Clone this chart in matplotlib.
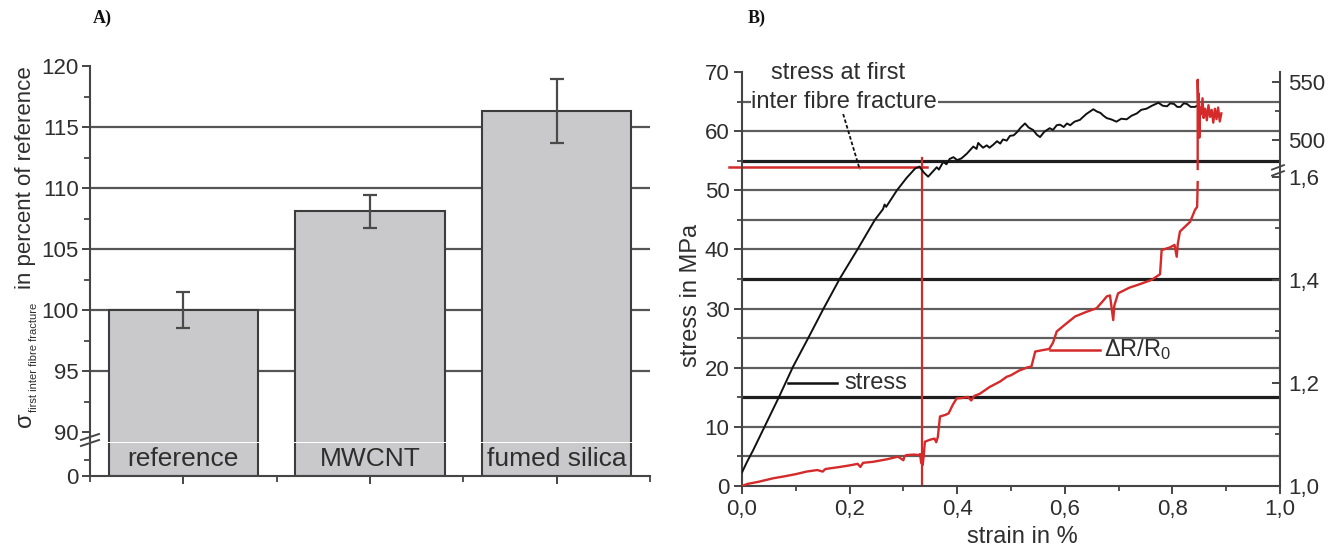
import numpy as np
import matplotlib
matplotlib.use("Agg")
import matplotlib.pyplot as plt
from matplotlib.ticker import FixedLocator, FuncFormatter, NullFormatter

plt.rcParams['font.family'] = ['Liberation Sans', 'DejaVu Sans']
plt.rcParams['mathtext.fontset'] = 'custom'
plt.rcParams['mathtext.rm'] = 'Liberation Sans'
plt.rcParams['mathtext.it'] = 'Liberation Sans:italic'
plt.rcParams['mathtext.bf'] = 'Liberation Sans:bold'

# ---------------- Panel A: strength at first inter fibre fracture ----------------
categories = ['reference', 'MWCNT', 'fumed silica']
strength_pct = [100.0, 108.1, 116.3]
strength_err = [1.5, 1.35, 2.6]

# ---------------- Panel B: tensile test with resistance measurement ----------------
stress_strain = [0.000, 0.010, 0.021, 0.045, 0.069, 0.095, 0.123, 0.151, 0.182, 0.216,
                 0.247, 0.262, 0.265, 0.268, 0.288, 0.306, 0.322, 0.330, 0.338, 0.346,
                 0.356, 0.362, 0.366, 0.374, 0.380, 0.386, 0.393, 0.400, 0.408, 0.418,
                 0.430, 0.436, 0.439, 0.448, 0.455, 0.460, 0.467, 0.474, 0.480, 0.485,
                 0.492, 0.498, 0.505, 0.512, 0.518, 0.526, 0.533, 0.541, 0.548, 0.554,
                 0.562, 0.572, 0.578, 0.585, 0.591, 0.598, 0.604, 0.610, 0.618, 0.628,
                 0.640, 0.653, 0.660, 0.666, 0.672, 0.678, 0.686, 0.696, 0.705, 0.715,
                 0.724, 0.734, 0.742, 0.752, 0.762, 0.774, 0.782, 0.790, 0.796, 0.803,
                 0.809, 0.815, 0.821, 0.827, 0.834, 0.842, 0.846]
stress_mpa = [2.3, 4.2, 6.1, 10.6, 15.1, 20.2, 25.0, 29.9, 35.1, 40.2,
              45.0, 46.8, 47.6, 47.2, 50.0, 52.1, 53.7, 54.0, 53.0, 52.3,
              53.3, 53.9, 53.5, 54.8, 54.4, 55.3, 55.6, 55.1, 55.4, 56.2,
              57.4, 57.0, 58.0, 57.2, 57.6, 57.2, 57.7, 58.3, 57.9, 58.6,
              58.4, 59.2, 59.3, 59.9, 60.6, 61.3, 60.6, 60.2, 59.4, 59.0,
              59.9, 60.5, 60.2, 61.0, 61.1, 60.7, 61.3, 61.0, 61.6, 61.9,
              62.9, 63.7, 63.3, 63.1, 62.6, 62.2, 62.0, 61.6, 62.1, 62.0,
              62.6, 63.0, 63.6, 63.8, 64.3, 64.8, 64.3, 64.2, 64.7, 64.6,
              64.1, 64.1, 64.7, 64.6, 64.1, 64.1, 64.3]

# relative resistance, lower range
res_strain_low = [0.000, 0.010, 0.030, 0.058, 0.080, 0.100, 0.120, 0.140, 0.150, 0.155,
                  0.182, 0.200, 0.215, 0.220, 0.225, 0.244, 0.270, 0.290, 0.300, 0.302,
                  0.306, 0.320, 0.328, 0.331, 0.333, 0.336, 0.338, 0.340, 0.350, 0.358,
                  0.361, 0.364, 0.368, 0.378, 0.384, 0.392, 0.399, 0.410, 0.420, 0.426,
                  0.432, 0.442, 0.460, 0.480, 0.492, 0.500, 0.515, 0.530, 0.538, 0.545,
                  0.560, 0.571, 0.578, 0.585, 0.600, 0.619, 0.640, 0.659, 0.670, 0.678,
                  0.684, 0.690, 0.692, 0.699, 0.720, 0.740, 0.761, 0.777, 0.780, 0.795,
                  0.804, 0.808, 0.810, 0.814, 0.825, 0.833, 0.842, 0.846, 0.847]
res_low = [1.000, 1.004, 1.008, 1.015, 1.019, 1.023, 1.028, 1.031, 1.028, 1.033,
           1.037, 1.040, 1.043, 1.037, 1.045, 1.047, 1.052, 1.057, 1.050, 1.058,
           1.060, 1.061, 1.060, 1.062, 1.045, 1.041, 1.062, 1.086, 1.090, 1.092,
           1.085, 1.095, 1.135, 1.138, 1.141, 1.158, 1.170, 1.171, 1.173, 1.166,
           1.175, 1.179, 1.192, 1.203, 1.212, 1.215, 1.224, 1.230, 1.232, 1.261,
           1.264, 1.266, 1.278, 1.300, 1.313, 1.329, 1.338, 1.345, 1.358, 1.368,
           1.370, 1.322, 1.350, 1.374, 1.385, 1.392, 1.400, 1.411, 1.458, 1.463,
           1.468, 1.445, 1.470, 1.494, 1.505, 1.513, 1.536, 1.542, 1.590]

# relative resistance after failure (upper range)
res_strain_high = [0.847, 0.847, 0.848, 0.849, 0.850, 0.851, 0.853, 0.856, 0.858, 0.861,
                   0.864, 0.867, 0.870, 0.873, 0.876, 0.879, 0.882, 0.885, 0.888, 0.891]
res_high = [472, 552, 530, 540, 502, 528, 522, 536, 519, 527,
            517, 530, 520, 526, 515, 527, 518, 528, 516, 523]

first_iff_strain = 0.334
first_iff_stress = 54.0

W, H = 1333, 549
INK = '#2e2e2e'
AXC = '#454545'
RED = '#d42a2a'

fig = plt.figure(figsize=(W / 100, H / 100), dpi=100)


def fig_rect(left, top, right, bottom):
    return [left / W, 1 - bottom / H, (right - left) / W, (bottom - top) / H]


# ---- broken y scale for panel A (units ~ pixels above the x axis) ----
A_V = [-1000.0, 0.0, 33.0, 89.6, 1000.0]
A_D = [-1000.0, 0.0, 33.0, 39.0, 39.0 + (1000.0 - 89.6) * 12.2]


def a_fwd(v):
    return np.interp(v, A_V, A_D)


def a_inv(d):
    return np.interp(d, A_D, A_V)


axA = fig.add_axes(fig_rect(90, 66, 650, 476))
axA.set_yscale('function', functions=(a_fwd, a_inv))
axA.set_xlim(0.5, 3.5)
axA.set_ylim(0, 120)

xpos = np.arange(1, len(categories) + 1)
for g in [95, 100, 105, 110, 115]:
    axA.axhline(g, color='#555555', lw=1.6, zorder=1)
axA.bar(xpos, strength_pct, width=0.8, color='#c9c9cb', edgecolor='#3c3c3c',
        linewidth=1.5, zorder=2)
axA.errorbar(xpos, strength_pct, yerr=strength_err, fmt='none', ecolor='#4a4a4a',
             elinewidth=1.6, capsize=5, capthick=1.6, zorder=4)
for xi, name in zip(xpos, categories):
    axA.text(xi, 16.5, name, ha='center', va='center', fontsize=19, color=INK, zorder=5)

for s in ['top', 'right']:
    axA.spines[s].set_visible(False)
for s in ['left', 'bottom']:
    axA.spines[s].set_color(AXC)
    axA.spines[s].set_linewidth(1.5)

axA.yaxis.set_major_locator(FixedLocator([0, 90, 95, 100, 105, 110, 115, 120]))
axA.yaxis.set_minor_locator(FixedLocator([16, 92.5, 97.5, 102.5, 107.5, 112.5, 117.5]))
axA.yaxis.set_major_formatter(FuncFormatter(lambda v, p: f'{v:.0f}'))
axA.yaxis.set_minor_formatter(NullFormatter())
axA.xaxis.set_major_locator(FixedLocator(list(xpos)))
axA.xaxis.set_minor_locator(FixedLocator([0.5, 1.5, 2.5, 3.5]))
axA.xaxis.set_major_formatter(NullFormatter())
axA.tick_params(axis='both', which='major', direction='out', length=6, width=1.4,
                color=AXC, labelcolor=INK, labelsize=16, pad=2)
axA.tick_params(axis='both', which='minor', direction='out', length=4, width=1.3, color=AXC)

# axis break: white gap across the bars and the axis, with slanted marks
axA.add_patch(plt.Rectangle((-0.02, 33), 1.03, 6, transform=axA.get_yaxis_transform(),
                            facecolor='white', edgecolor='none', zorder=3.5, clip_on=False))
hA = 410.0
for d in (33.0, 39.0):
    axA.plot([-9 / 560, 9 / 560], [(d - 3) / hA, (d + 3) / hA], transform=axA.transAxes,
             color=AXC, lw=1.4, clip_on=False, zorder=6)

# y label: sigma with a small subscript, then the rest of the label
fig.text(31 / W, 1 - 427 / H, 'σ', rotation=90, rotation_mode='anchor', ha='left',
         va='baseline', fontsize=17, color=INK)
fig.text(37 / W, 1 - 412 / H, 'first inter fibre fracture', rotation=90,
         rotation_mode='anchor', ha='left', va='baseline', fontsize=8, color=INK)
fig.text(31 / W, 1 - 289 / H, 'in percent of reference', rotation=90,
         rotation_mode='anchor', ha='left', va='baseline', fontsize=16, color=INK)

fig.text(93 / W, 1 - 18 / H, 'A)', fontfamily='Liberation Serif', fontweight='bold',
         fontsize=13, ha='left', va='center', color='#111111')
fig.text(748 / W, 1 - 18 / H, 'B)', fontfamily='Liberation Serif', fontweight='bold',
         fontsize=13, ha='left', va='center', color='#111111')

# ---------------- Panel B ----------------
axB = fig.add_axes(fig_rect(742, 72, 1280, 486))
axB.set_xlim(0, 1)
axB.set_ylim(0, 70)
for g in range(5, 70, 5):
    thick = g in (15, 35, 55)
    axB.axhline(g, color='#1e1e1e' if thick else '#5e5e5e', lw=2.3 if thick else 1.6,
                zorder=1)

axB.plot(stress_strain, stress_mpa, color='#111111', lw=1.4, zorder=3)

# marker lines for stress at first inter fibre fracture
axB.plot([-0.024, first_iff_strain + 0.009], [first_iff_stress, first_iff_stress],
         color=RED, lw=1.8, zorder=2.5, clip_on=False)
axB.plot([first_iff_strain, first_iff_strain], [0, 55.5], color=RED, lw=1.6, zorder=2.5)

axB.text(0.178, 69.8, 'stress at first', ha='center', va='center', fontsize=17,
         color=INK, clip_on=False, zorder=6)
axB.text(0.190, 64.9, 'inter fibre fracture', ha='center', va='center', fontsize=17,
         color=INK, zorder=6,
         bbox=dict(facecolor='white', edgecolor='none', pad=0.5))
axB.plot([0.188, 0.219], [62.9, 53.5], color='#111111', lw=1.3, ls=(0, (2, 1.2)), zorder=4)

axB.plot([0.086, 0.176], [17.4, 17.4], color='#111111', lw=1.8, zorder=4)
axB.text(0.191, 17.4, 'stress', ha='left', va='center', fontsize=17, color=INK, zorder=6)

axB.plot([0.572, 0.665], [23.0, 23.0], color=RED, lw=1.8, zorder=4)
axB.text(0.673, 23.0, r'ΔR/R$_0$', ha='left', va='center', fontsize=17, color=INK, zorder=6)

axB.spines['top'].set_visible(False)
axB.spines['right'].set_visible(False)
for s in ['left', 'bottom']:
    axB.spines[s].set_color(AXC)
    axB.spines[s].set_linewidth(1.5)

axB.yaxis.set_major_locator(FixedLocator(list(range(0, 71, 10))))
axB.yaxis.set_minor_locator(FixedLocator(list(range(5, 70, 10))))
axB.xaxis.set_major_locator(FixedLocator([0, 0.2, 0.4, 0.6, 0.8, 1.0]))
axB.xaxis.set_minor_locator(FixedLocator([0.1, 0.3, 0.5, 0.7, 0.9]))
axB.xaxis.set_major_formatter(FuncFormatter(lambda v, p: f'{v:.1f}'.replace('.', ',')))
axB.tick_params(axis='both', which='major', direction='out', length=6, width=1.4,
                color=AXC, labelcolor=INK, labelsize=16, pad=3)
axB.tick_params(axis='both', which='minor', direction='out', length=3.5, width=1.3, color=AXC)
axB.set_xlabel('strain in %', fontsize=17, color=INK)
axB.xaxis.set_label_coords(0.522, -0.097)
axB.set_ylabel('stress in MPa', fontsize=17, color=INK)
axB.yaxis.set_label_coords(-0.074, 0.46)

# right axis: relative resistance with a broken scale
B_R = [-100.0, 1.0, 1.613, 475.0, 10000.0]
B_S = [-101 * 87.1, 0.0, 0.613 * 87.1, 53.6, 58.5 + 9500 * 0.196]


def b_fwd(r):
    return np.interp(r, B_R, B_S)


def b_inv(s):
    return np.interp(s, B_S, B_R)


axR = axB.twinx()
axR.set_yscale('function', functions=(b_fwd, b_inv))
axR.set_ylim(1.0, float(b_inv(70.0)))
axR.plot(res_strain_low, res_low, color=RED, lw=1.7, zorder=3)
axR.plot(res_strain_high, res_high, color=RED, lw=1.7, zorder=3)

for s in ['top', 'left', 'bottom']:
    axR.spines[s].set_visible(False)
axR.spines['right'].set_color(AXC)
axR.spines['right'].set_linewidth(1.5)
axR.yaxis.set_major_locator(FixedLocator([1.0, 1.2, 1.4, 1.6, 500, 550]))
axR.yaxis.set_minor_locator(FixedLocator([1.1, 1.3, 1.5, 525]))
axR.yaxis.set_major_formatter(FuncFormatter(
    lambda v, p: f'{v:.0f}' if v > 100 else f'{v:.1f}'.replace('.', ',')))
axR.yaxis.set_minor_formatter(NullFormatter())
axR.tick_params(axis='y', which='major', direction='in', length=6, width=1.4,
                color=AXC, labelcolor=INK, labelsize=16, pad=6)
axR.tick_params(axis='y', which='minor', direction='in', length=3.5, width=1.3, color=AXC)

# break marks on the right axis
yb = 53.5 / 70.0
for dy in (-3.0, 3.0):
    axB.plot([1 - 8 / 538, 1 + 4 / 538], [yb + (dy - 3) / 414, yb + (dy + 1.5) / 414],
             transform=axB.transAxes, color=AXC, lw=1.3, clip_on=False, zorder=6)

fig.savefig('out.png', dpi=100)
